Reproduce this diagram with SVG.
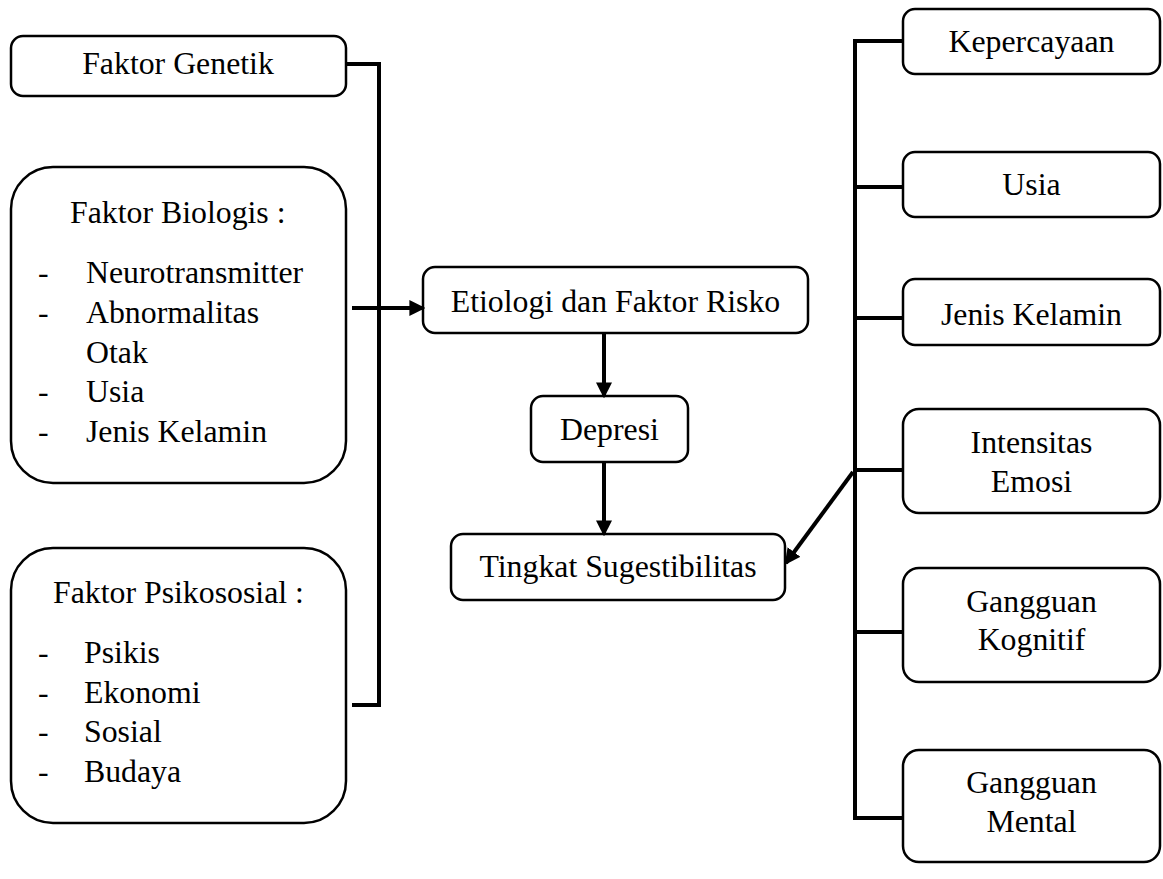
<svg xmlns="http://www.w3.org/2000/svg" width="1163" height="879" viewBox="0 0 1163 879" font-family="Liberation Serif, Times New Roman, serif">
<style>
.box{fill:#fff;stroke:#000;stroke-width:2.5}
text{font-size:31.8px;fill:#000}
.c{text-anchor:middle}
.ln{fill:none;stroke:#000;stroke-width:4}
</style>
<defs>
<marker id="ah" markerWidth="4" markerHeight="4" refX="3.4" refY="2" orient="auto" markerUnits="strokeWidth">
<path d="M0,0 L4,2 L0,4 Z" fill="#000"/>
</marker>
</defs>
<rect width="1163" height="879" fill="#fff"/>
<g id="faktor-genetik">
<rect class="box" x="11" y="36" width="335" height="60" rx="12"/>
<text class="c" x="178" y="74">Faktor Genetik</text>
</g>
<g id="faktor-biologis">
<rect class="box" x="11" y="167" width="335" height="316" rx="42"/>
<text x="70" y="223">Faktor Biologis :</text>
<text x="38" y="283">-</text><text x="86" y="283">Neurotransmitter</text>
<text x="38" y="323">-</text><text x="86" y="323">Abnormalitas</text>
<text x="86" y="363">Otak</text>
<text x="38" y="402">-</text><text x="86" y="402">Usia</text>
<text x="38" y="442">-</text><text x="86" y="442">Jenis Kelamin</text>
</g>
<g id="faktor-psikososial">
<rect class="box" x="11" y="548" width="335" height="275" rx="42"/>
<text x="53" y="603">Faktor Psikososial :</text>
<text x="38" y="663">-</text><text x="84" y="663">Psikis</text>
<text x="38" y="703">-</text><text x="84" y="703">Ekonomi</text>
<text x="38" y="742">-</text><text x="84" y="742">Sosial</text>
<text x="38" y="782">-</text><text x="84" y="782">Budaya</text>
</g>
<g id="etiologi">
<rect class="box" x="423" y="267" width="385" height="66" rx="12"/>
<text class="c" x="615.5" y="312">Etiologi dan Faktor Risko</text>
</g>
<g id="depresi">
<rect class="box" x="531" y="396" width="157" height="66" rx="12"/>
<text class="c" x="609.5" y="440">Depresi</text>
</g>
<g id="tingkat-sugestibilitas">
<rect class="box" x="451" y="534" width="334" height="66" rx="12"/>
<text class="c" x="618" y="577">Tingkat Sugestibilitas</text>
</g>
<g id="kepercayaan">
<rect class="box" x="903" y="9" width="257" height="65" rx="12"/>
<text class="c" x="1031.5" y="52">Kepercayaan</text>
</g>
<g id="usia">
<rect class="box" x="903" y="152" width="257" height="65" rx="12"/>
<text class="c" x="1031.5" y="195">Usia</text>
</g>
<g id="jenis-kelamin">
<rect class="box" x="903" y="279" width="257" height="66" rx="12"/>
<text class="c" x="1031.5" y="325">Jenis Kelamin</text>
</g>
<g id="intensitas-emosi">
<rect class="box" x="903" y="409" width="257" height="104" rx="16"/>
<text class="c" x="1031.5" y="453">Intensitas</text>
<text class="c" x="1031.5" y="492">Emosi</text>
</g>
<g id="gangguan-kognitif">
<rect class="box" x="903" y="568" width="257" height="114" rx="16"/>
<text class="c" x="1031.5" y="612">Gangguan</text>
<text class="c" x="1031.5" y="650">Kognitif</text>
</g>
<g id="gangguan-mental">
<rect class="box" x="903" y="750" width="257" height="112" rx="16"/>
<text class="c" x="1031.5" y="793">Gangguan</text>
<text class="c" x="1031.5" y="832">Mental</text>
</g>
<g id="connectors">
<polyline class="ln" points="346,64 379,64 379,705 352,705"/>
<line class="ln" x1="352" y1="308" x2="423" y2="308" marker-end="url(#ah)"/>
<line class="ln" x1="604" y1="333" x2="604" y2="396" marker-end="url(#ah)"/>
<line class="ln" x1="604" y1="462" x2="604" y2="534" marker-end="url(#ah)"/>
<polyline class="ln" points="903,41 855,41 855,818 903,818"/>
<line class="ln" x1="855" y1="187" x2="903" y2="187"/>
<line class="ln" x1="855" y1="318" x2="903" y2="318"/>
<line class="ln" x1="855" y1="470" x2="903" y2="470"/>
<line class="ln" x1="855" y1="632" x2="903" y2="632"/>
<line class="ln" x1="853" y1="472" x2="786" y2="563" marker-end="url(#ah)"/>
</g>
</svg>
